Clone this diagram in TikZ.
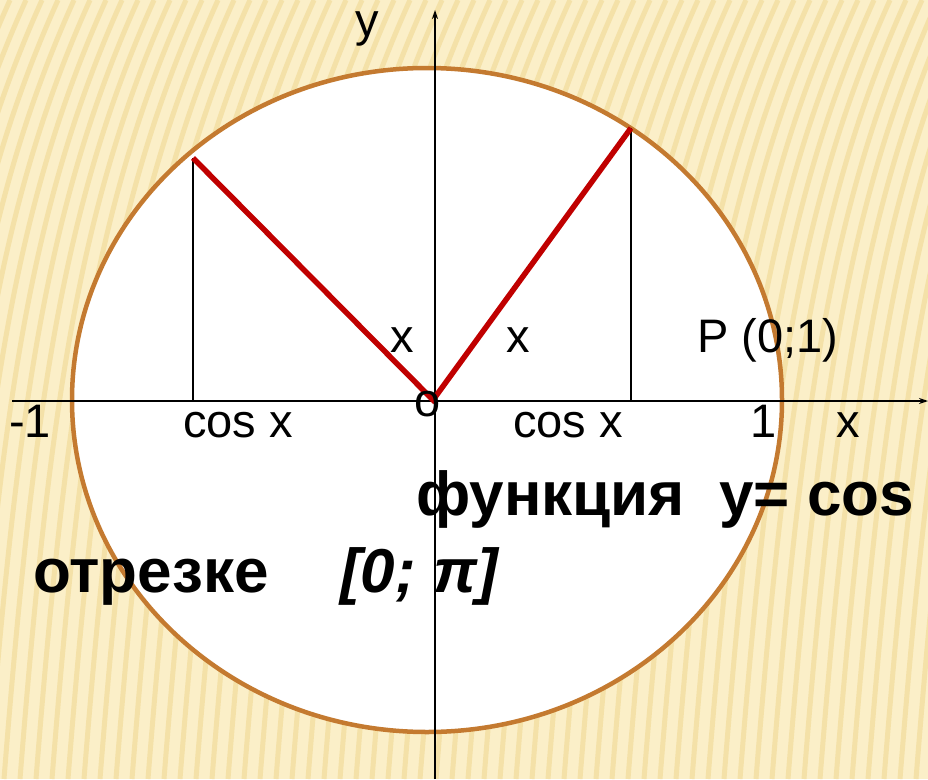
\documentclass[tikz,border=0pt]{standalone}
\usepackage{fontspec}
\setmainfont{Liberation Sans}
\usetikzlibrary{arrows.meta}
\definecolor{paper}{HTML}{FBEFC8}
\definecolor{band}{HTML}{F4E1A8}
\definecolor{rim}{HTML}{C47A30}
\definecolor{vred}{HTML}{C00000}
\begin{document}
\begin{tikzpicture}[
    x=1pt, y=-1pt,
    >={Stealth[length=9pt,width=6pt]},
    lbl/.style={inner sep=0pt, anchor=base west, font=\fontsize{47}{50}\selectfont},
    bigtxt/.style={inner sep=0pt, anchor=base west, font=\fontsize{62}{66}\selectfont\bfseries},
    axis/.style={->, line width=1.3pt, black},
    proj/.style={line width=1.2pt, black},
    radius/.style={line width=5.5pt, vred},
    stripe/.style={line width=5pt, band}
  ]
    \useasboundingbox (0,0) rectangle (928,779);
    % background
    \fill[paper] (0,0) rectangle (928,779);
    \begin{scope}
      \clip (0,0) rectangle (928,779);
      \foreach \s in {-300,-284,...,940}
        \draw[stripe] (\s,779) .. controls (\s+30,400) and (\s+60,200) .. (\s+150,0);
    \end{scope}
    % unit circle
    \draw[line width=4.5pt, rim, fill=white] (427,400) ellipse [x radius=355, y radius=332];
    % points
    \coordinate (O) at (433,400);
    \coordinate (A) at (631,128);
    \coordinate (B) at (193,158);
    \coordinate (Ax) at (631,400);
    \coordinate (Bx) at (193,400);
    \coordinate (xl) at (12,401);
    \coordinate (xr) at (928,401);
    \coordinate (yb) at (435,779);
    \coordinate (yt) at (435,10);
    % axes
    \draw[axis] (xl) -- (xr);
    \draw[axis] (yb) -- (yt);
    \draw[proj] (A) -- (Ax);
    \draw[proj] (B) -- (Bx);
    \draw[radius] (B) -- (O) -- (A);
    % labels
    \node[lbl] (ylab) at (355,36) {y};
    \node[lbl] (xa) at (390,352) {x};
    \node[lbl] (xb) at (506,352) {x};
    \node[lbl] (plab) at (697,352) {P (0;1)};
    \node[lbl] (m1) at (9,437) {-1};
    \node[lbl] (cl) at (183,437) {cos x};
    \node[lbl] (olab) at (414,416) {o};
    \node[lbl] (cr) at (513,437) {cos x};
    \node[lbl] (one) at (750,437) {1};
    \node[lbl] (xlab) at (836,437) {x};
    \node[bigtxt] (func) at (416,515) {функция\ \ y= cos};
    \node[bigtxt] (seg) at (33,592) {отрезке};
    \node[bigtxt, font=\fontsize{62}{66}\selectfont\bfseries\itshape] (int) at (340,592) {[0; π]};
  \end{tikzpicture}
\end{document}
